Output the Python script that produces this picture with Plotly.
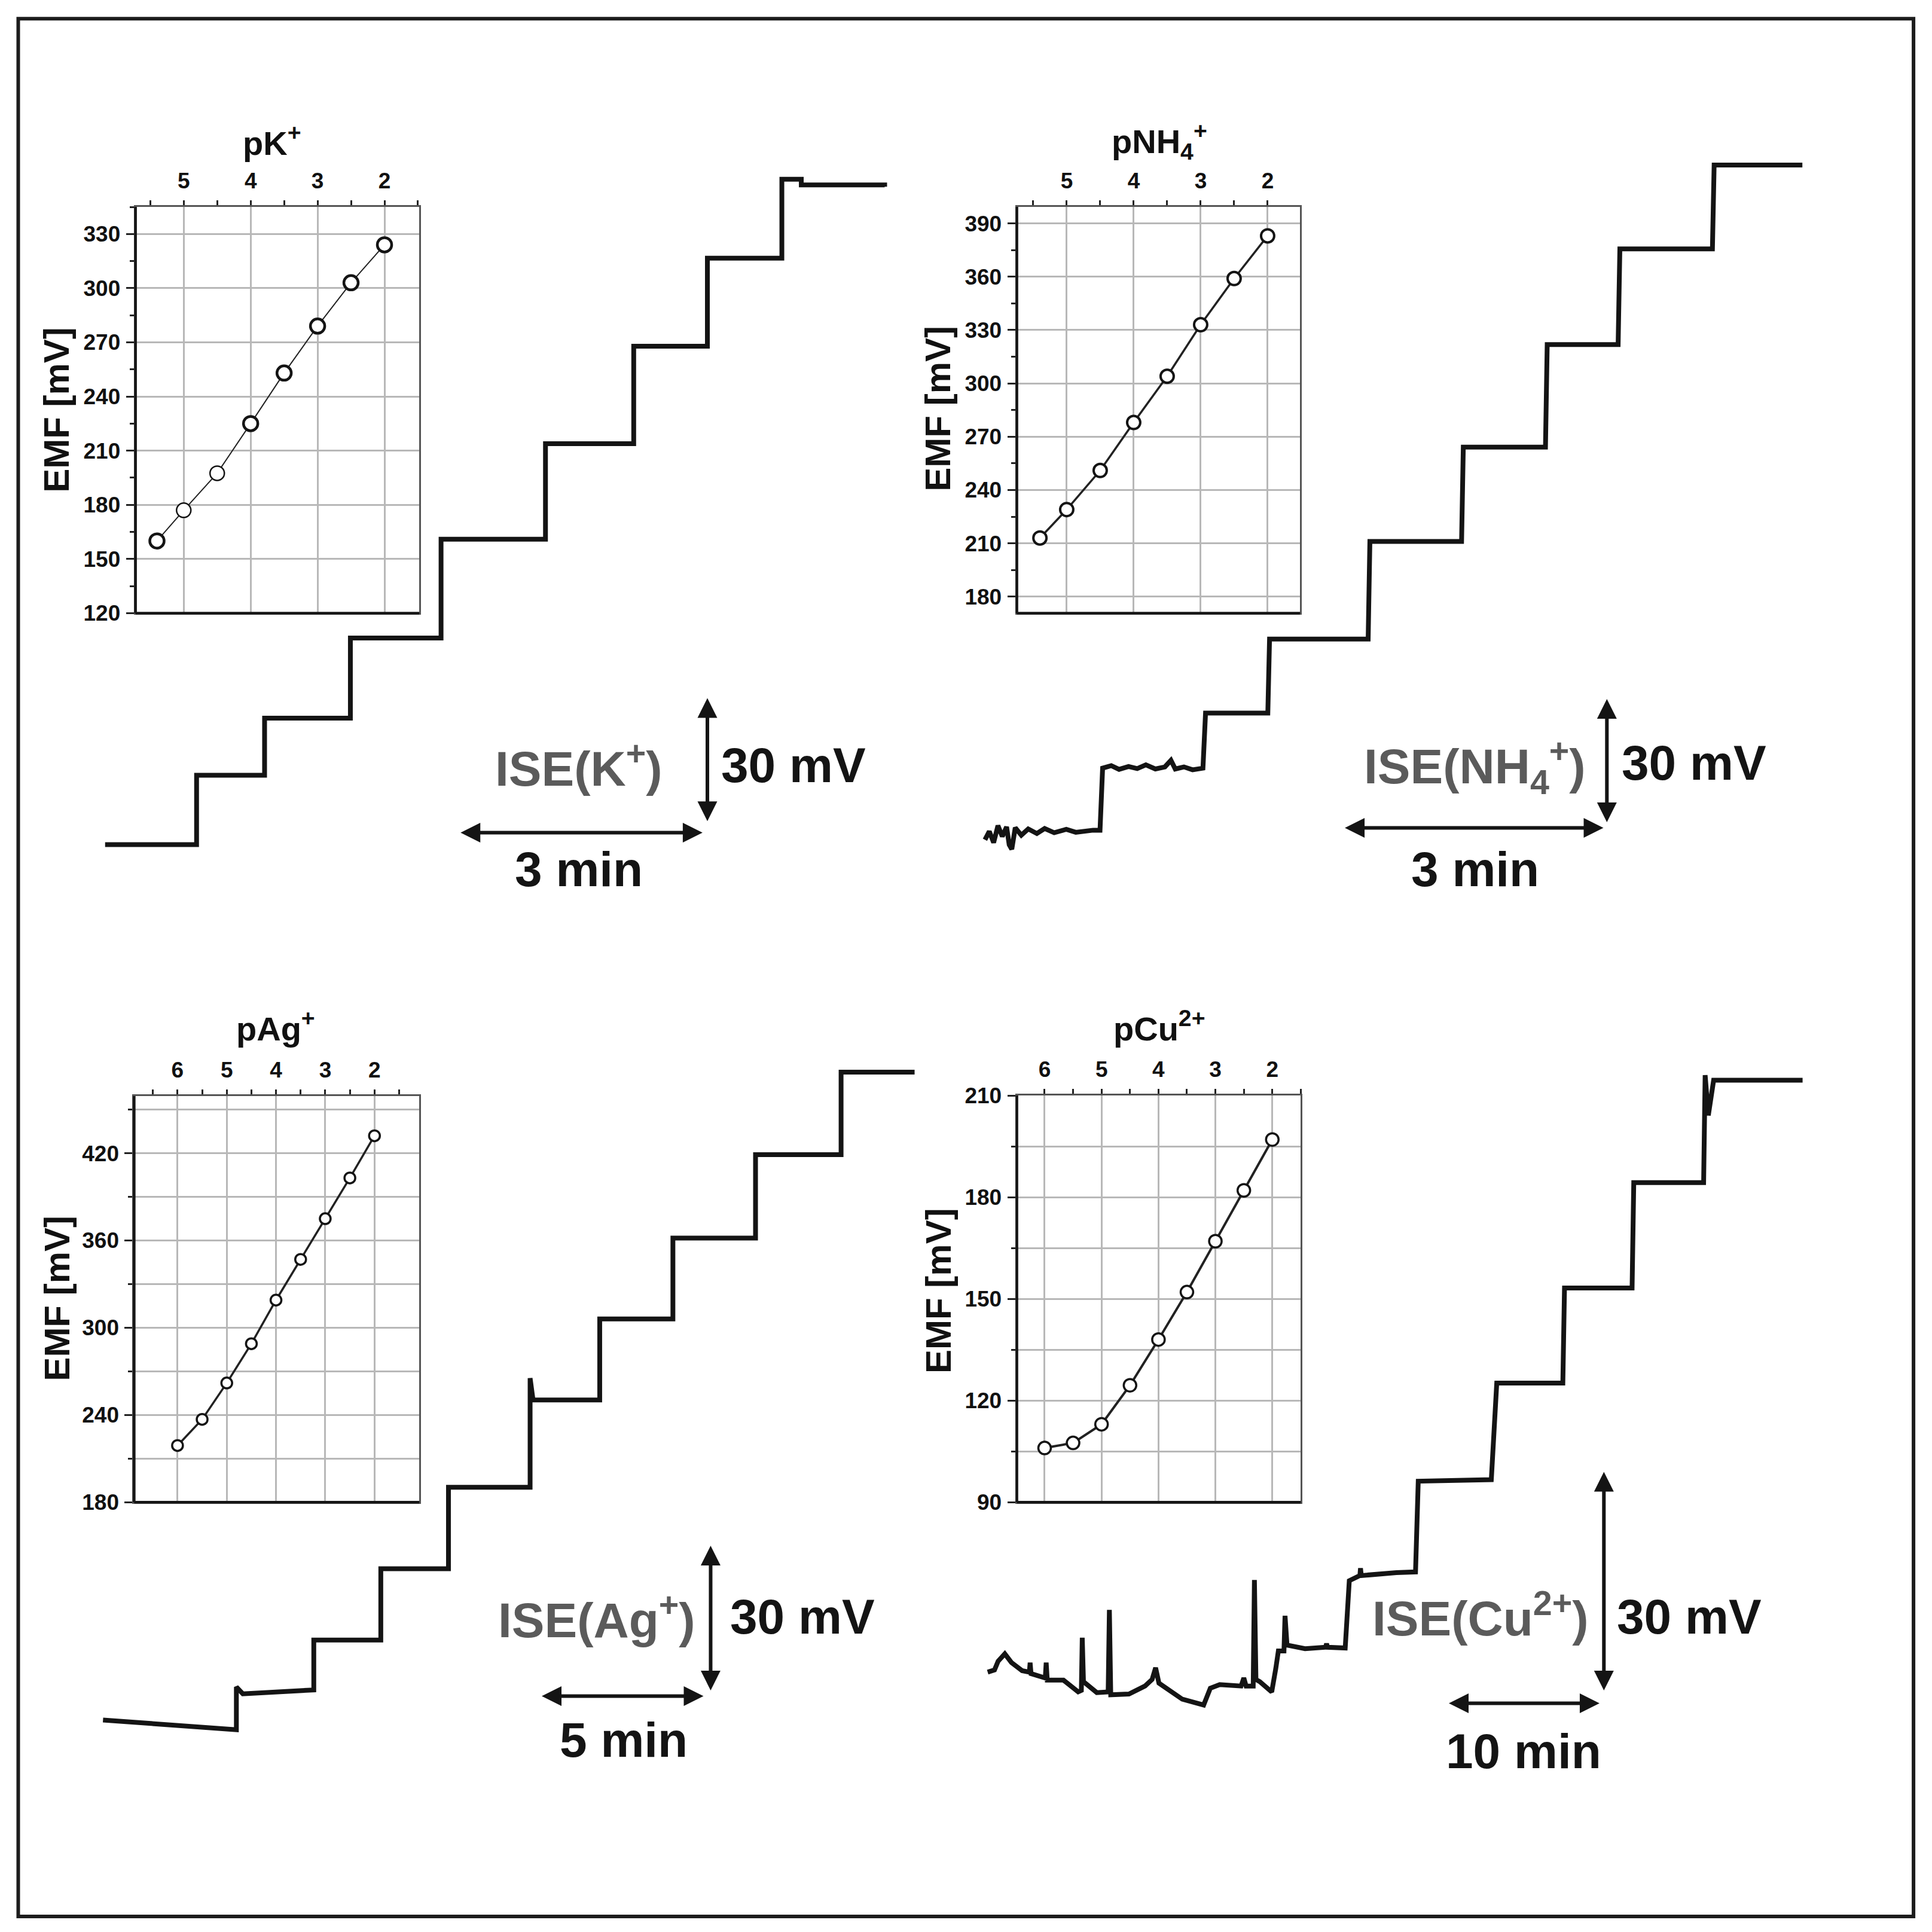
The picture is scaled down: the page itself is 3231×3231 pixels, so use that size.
import plotly.graph_objects as go

# calibration insets: p(ion) and EMF [mV]
PK = [5.4, 5.0, 4.5, 4.0, 3.5, 3.0, 2.5, 2.0]
PK_EMF = [160, 177, 197.5, 225, 253, 279, 303, 324]
PNH4 = [5.4, 5.0, 4.5, 4.0, 3.5, 3.0, 2.5, 2.0]
PNH4_EMF = [213, 229, 251, 278, 304, 333, 359, 383]
PAG = [6.0, 5.5, 5.0, 4.5, 4.0, 3.5, 3.0, 2.5, 2.0]
PAG_EMF = [219, 237, 262, 289, 319, 347, 375, 403, 432]
PCU = [6.0, 5.5, 5.0, 4.5, 4.0, 3.5, 3.0, 2.5, 2.0]
PCU_EMF = [106, 107.5, 113, 124.5, 138, 152, 167, 182, 197]

# potential-time recordings: minutes from start, mV above first reading
K_T = [0, 1.13, 1.97, 3.03, 4.15, 5.44, 6.53, 7.44, 8.36, 8.6, 9.63]
K_MV = [0, 16.8, 30.6, 50.0, 73.9, 97.0, 120.6, 141.9, 161.0, 159.6, 159.2]

NH4_T = [0, 0.05, 0.10, 0.15, 0.20, 0.25, 0.28, 0.31, 0.35, 0.42, 0.50, 0.60, 0.69,
         0.80, 0.94, 1.05, 1.25, 1.33, 1.36, 1.46, 1.55, 1.66, 1.76, 1.86, 1.97, 2.08,
         2.15, 2.20, 2.30, 2.40, 2.52, 2.55, 3.27, 3.29, 4.43, 4.45, 5.51, 5.53, 6.48, 6.50,
         7.32, 7.34, 8.41, 8.43, 9.45]
NH4_MV = [-2.3, -0.3, -3.0, 1.1, -1.5, 0.8, -3.5, -4.6, 0.6, -1.2, 0.3, -0.8, 0.4,
          -0.6, 0.2, -0.5, 0.0, 0.0, 15.0, 15.6, 14.7, 15.4, 14.9, 15.8, 14.8, 15.3,
          16.9, 14.8, 15.3, 14.6, 15.0, 28.3, 28.3, 46.2, 46.2, 69.8, 69.8, 92.6, 92.6,
          117.4, 117.4, 140.5, 140.5, 160.8, 160.8]

AG_T = [0, 4.10, 4.10, 4.30, 6.48, 6.48, 8.54, 8.54, 10.62, 10.62, 13.13, 13.13,
        13.22, 15.27, 15.27, 17.52, 17.52, 20.06, 20.06, 22.69, 22.69, 24.95]
AG_MV = [0, -2.0, 6.8, 5.4, 6.2, 16.5, 16.5, 31.2, 31.2, 48.0, 48.0, 70.5,
         66.0, 66.0, 82.7, 82.7, 99.4, 99.4, 116.6, 116.6, 133.6, 133.6]

CU_T = [0.00, 0.45, 0.69, 1.13, 1.57, 2.27, 2.75, 2.80, 2.86, 3.80, 3.86, 3.93,
        5.00, 5.97, 6.18, 6.24, 6.32, 7.20, 7.95, 8.03, 8.12, 9.32, 10.38, 10.85,
        11.08, 11.30, 12.84, 14.25, 14.69, 15.31, 16.72, 16.90, 17.05, 17.52, 17.60,
        17.70, 17.95, 18.74, 19.01, 19.18, 19.55, 19.62, 19.75, 20.94, 22.30, 22.36,
        22.42, 23.59, 23.86, 24.56, 24.60, 24.65, 26.97, 28.23, 28.41, 33.23, 33.59,
        37.95, 38.06, 42.52, 42.63, 47.24, 47.34, 47.55, 47.90, 53.77]
CU_MV = [0.0, 0.3, 1.5, 2.5, 1.3, 0.2, 0.0, 1.3, -0.2, -0.8, 1.3, -1.1,
         -1.1, -2.7, -2.5, 4.7, -1.3, -2.8, -2.7, 8.5, -3.1, -3.0, -1.9, -1.0,
         0.6, -1.5, -3.7, -4.5, -2.2, -1.7, -1.9, -0.8, -1.9, -1.9, 12.6,
         -1.0, -1.3, -2.7, 0.5, 2.9, 2.9, 7.7, 3.7, 3.2, 3.4, 3.9,
         3.4, 3.3, 12.5, 13.2, 14.2, 13.2, 13.6, 13.7, 26.1, 26.3, 39.5,
         39.5, 52.5, 52.5, 66.9, 66.9, 81.6, 76.1, 80.9, 80.9]

S = 1568.0  # reference layout units (figure is square)
W = 3231
INK = '#141414'
GRID = '#b8b8b8'
FONT = 'Liberation Sans'
# vertical correction measured between the photographed page and the layout
SQUASH = 0.986
SHIFT = 9.4


def px(sx):
    return sx / S


def vy(sy):
    return (sy - SHIFT) / SQUASH


def py(sy):
    return 1 - vy(sy) / S


def name(n, k):
    return f'{k}axis' if n == 1 else f'{k}axis{n}'


def ref(n, k):
    return k if n == 1 else f'{k}{n}'


fig = go.Figure()
layout = {}
shapes = []
annotations = []

tickfont = dict(family=FONT, size=37, color='#111', weight='bold')

# inset panels
insets = [
    (1, PK, PK_EMF, (110, 340.3), (167.4, 496.7), [5.72, 1.48], [120, 345], 30, 15, False,
     24, [4.5, 2.5, 2.5, 4.5, 4.5, 4.5, 4.5, 4.5], 2, 'pK<sup>+</sup>', (221, 114), (45.7, 332)),
    (2, PNH4, PNH4_EMF, (825.3, 1055.1), (167.4, 496.7), [5.744, 1.516], [170.7, 399.3], 30, 15, False,
     22, 4, 3.5, 'pNH<sub>4</sub><sup>+</sup>', (941, 114), (761, 331)),
    (3, PAG, PAG_EMF, (108.9, 340.3), (888.1, 1217.3), [6.88, 1.09], [180, 459.3], 60, 30, True,
     18, 3.5, 3.5, 'pAg<sup>+</sup>', (223.5, 831.5), (46.3, 1052)),
    (4, PCU, PCU_EMF, (825.3, 1055.7), (887.6, 1217.3), [6.487, 1.5], [90, 210], 30, 15, True,
     21, 3.5, 4, 'pCu<sup>2+</sup>', (941, 831.5), (762, 1046)),
]

for (n, xs, ys, xd, yd, xr, yr, ydt, ymin, mgrid, msz, mlw, lw, title, tpos, epos) in insets:
    fig.add_trace(go.Scatter(
        x=xs, y=ys, mode='lines+markers', xaxis=ref(n, 'x'), yaxis=ref(n, 'y'),
        line=dict(color='#222', width=lw),
        marker=dict(symbol='circle', size=msz, color='white', line=dict(color=INK, width=mlw)),
        showlegend=False, hoverinfo='skip'))
    layout[name(n, 'x')] = dict(
        domain=[px(xd[0]), px(xd[1])], range=xr, anchor=ref(n, 'y'), side='top',
        tick0=0, dtick=1, ticks='outside', ticklen=8, tickwidth=3, tickcolor='#222',
        showgrid=True, gridcolor=GRID, gridwidth=2.5, zeroline=False,
        showline=True, mirror=True, linecolor='#555', linewidth=3,
        tickfont=tickfont, ticklabelstandoff=5,
        minor=dict(tick0=0, dtick=0.5, ticks='outside', ticklen=8, tickwidth=3,
                   tickcolor='#222', showgrid=False))
    layout[name(n, 'y')] = dict(
        domain=[py(yd[1]), py(yd[0])], range=yr, anchor=ref(n, 'x'),
        tick0=0, dtick=ydt, ticks='outside', ticklen=13, tickwidth=3, tickcolor='#222',
        showgrid=True, gridcolor=GRID, gridwidth=2.5, zeroline=False,
        showline=True, mirror=True, linecolor='#555', linewidth=3,
        tickfont=tickfont, ticklabelstandoff=2,
        minor=dict(tick0=0, dtick=ymin, ticks='outside', ticklen=7, tickwidth=3,
                   tickcolor='#222', showgrid=mgrid, gridcolor=GRID, gridwidth=2.5))
    # darker left and bottom frame lines
    xdom, ydom = ref(n, 'x') + ' domain', ref(n, 'y') + ' domain'
    shapes.append(dict(type='line', xref=xdom, yref=ydom, x0=0, x1=0, y0=0, y1=1,
                       line=dict(color='#161616', width=4.5)))
    shapes.append(dict(type='line', xref=xdom, yref=ydom, x0=0, x1=1, y0=0, y1=0,
                       line=dict(color='#161616', width=4.5)))
    annotations.append(dict(text=title, x=px(tpos[0]), y=py(tpos[1]), xref='paper', yref='paper',
                            showarrow=False, xanchor='center', yanchor='middle',
                            font=dict(family=FONT, size=56, color='#111', weight='bold')))
    annotations.append(dict(text='EMF [mV]', x=px(epos[0]), y=py(epos[1]), xref='paper', yref='paper',
                            showarrow=False, textangle=-90, xanchor='center', yanchor='middle',
                            font=dict(family=FONT, size=60, color='#111', weight='bold')))

# recordings: origin (ref px), px per minute, px per mV
records = [
    (5, K_T, K_MV, 'hv', (85.3, 684.3, 65.7, 3.35)),
    (6, NH4_T, NH4_MV, 'linear', (799.4, 672.6, 70.2, 3.353)),
    (7, AG_T, AG_MV, 'linear', (83.6, 1393.8, 26.4, 3.93)),
    (8, CU_T, CU_MV, 'linear', (801.6, 1355.0, 12.3, 5.93)),
]
for n, ts, vs, shape, (sx0, sy0, kx, ky) in records:
    fig.add_trace(go.Scatter(
        x=ts, y=vs, mode='lines', xaxis=ref(n, 'x'), yaxis=ref(n, 'y'),
        line=dict(color=INK, width=8, shape=shape), showlegend=False, hoverinfo='skip'))
    y0, kyc = vy(sy0), ky / SQUASH
    layout[name(n, 'x')] = dict(domain=[0, 1], range=[-sx0 / kx, (S - sx0) / kx],
                                anchor=ref(n, 'y'), visible=False)
    layout[name(n, 'y')] = dict(domain=[0, 1], range=[(y0 - S) / kyc, y0 / kyc],
                                anchor=ref(n, 'x'), visible=False)

# scale bars: axis, vertical bar (t, v bottom), 30 mV; horizontal bar (t start, v), length in min
bars = [
    (5, 7.44, 5.46, 30, 4.38, 2.9, 3),
    (6, 7.19, 1.73, 30, 4.15, 0.57, 3),
    (7, 18.68, 5.93, 30, 13.46, 4.94, 5),
    (8, 40.66, -2.63, 30, 30.37, -4.25, 10),
]
for n, vt, vv, vlen, ht, hv, hlen in bars:
    xr, yr = ref(n, 'x'), ref(n, 'y')
    common = dict(xref=xr, yref=yr, axref=xr, ayref=yr, text='', showarrow=True,
                  arrowhead=2, arrowside='end+start', arrowwidth=6, arrowsize=1.1,
                  arrowcolor=INK, standoff=0, startstandoff=0)
    annotations.append(dict(x=vt, y=vv + vlen, ax=vt, ay=vv, **common))
    annotations.append(dict(x=ht + hlen, y=hv, ax=ht, ay=hv, **common))

# labels: text, ref px position, colour
labels = [
    ('ISE(K<sup>+</sup>)', 469.8, 620, '#5b5b5b'),
    ('30 mV', 644, 620, INK),
    ('3 min', 469.8, 704, INK),
    ('ISE(NH<sub>4</sub><sup>+</sup>)', 1197, 621, '#5b5b5b'),
    ('30 mV', 1375, 618, INK),
    ('3 min', 1197, 704, INK),
    ('ISE(Ag<sup>+</sup>)', 484.4, 1310, '#5b5b5b'),
    ('30 mV', 651.3, 1310, INK),
    ('5 min', 506.1, 1410, INK),
    ('ISE(Cu<sup>2+</sup>)', 1201.5, 1308.7, '#5b5b5b'),
    ('30 mV', 1370.8, 1310, INK),
    ('10 min', 1236.7, 1419, INK),
]
for text, sx, sy, col in labels:
    annotations.append(dict(text=text, x=px(sx), y=py(sy), xref='paper', yref='paper',
                            showarrow=False, xanchor='center', yanchor='middle',
                            font=dict(family=FONT, size=82, color=col, weight='bold')))

# outer frame
shapes.append(dict(type='rect', xref='paper', yref='paper',
                   x0=px(14.8), x1=px(1553.0), y0=py(1553.0), y1=py(14.8),
                   line=dict(color='#1c1c1c', width=6)))

fig.update_layout(
    width=W, height=W, margin=dict(l=0, r=0, t=0, b=0),
    paper_bgcolor='white', plot_bgcolor='rgba(0,0,0,0)',
    font=dict(family=FONT, color='#111'),
    shapes=shapes, annotations=annotations, showlegend=False,
    **layout)

pin_to_corner = (
    "document.body.style.margin = '0px';"
    "document.body.style.overflow = 'hidden';"
    "var gd = document.getElementById('{plot_id}');"
    "gd.style.position = 'absolute'; gd.style.left = '0px'; gd.style.top = '0px';"
)
fig.write_html("out.html", config={'displayModeBar': False}, post_script=pin_to_corner)
